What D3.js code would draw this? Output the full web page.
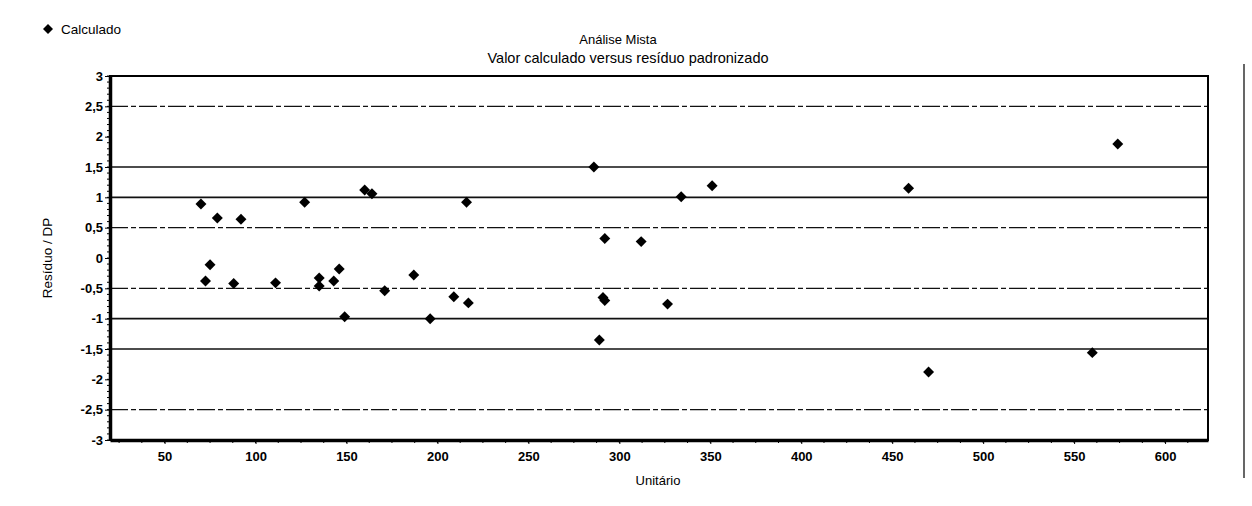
<!DOCTYPE html>
<html>
<head>
<meta charset="utf-8">
<script src="https://cdn.jsdelivr.net/npm/d3@7"></script>
<style>
body{margin:0;background:#fff;}
text{font-family:"Liberation Sans",Arial,sans-serif;fill:#000;}
</style>
</head>
<body>
<script>
// calculated value (x) and standardized residual (y)
const unitario=[70,79,92,127,160,164,216,75,72.5,88,111,135,135,143,146,171,187,209,217,149,196,
286,351,334,292,312,291,292,326.5,289,574,459,470,560];
const residuo=[0.89,0.66,0.64,0.92,1.12,1.06,0.92,-0.11,-0.38,-0.42,-0.41,-0.33,-0.46,-0.38,-0.18,-0.54,-0.28,-0.64,-0.74,-0.97,-1.0,
1.50,1.19,1.01,0.32,0.27,-0.65,-0.70,-0.76,-1.35,1.88,1.15,-1.88,-1.56];
const xTicks=[50,100,150,200,250,300,350,400,450,500,550,600];
const yTicks=[3,2.5,2,1.5,1,0.5,0,-0.5,-1,-1.5,-2,-2.5,-3];
const refSolid=[1.5,1,-1,-1.5];
const refDash=[2.5,0.5,-0.5,-2.5];

const W=1252,H=506;
const L=110,R=1208,T=76,B=440;

const svg=d3.select("body").append("svg").attr("width",W).attr("height",H);

const x=d3.scaleLinear().domain([20,623.6]).range([L,R]);
const y=d3.scaleLinear().domain([-3,3]).range([B,T]);

// reference lines
svg.selectAll(".rs").data(refSolid).enter().append("line")
 .attr("x1",L).attr("x2",R).attr("y1",d=>y(d)).attr("y2",d=>y(d))
 .attr("stroke","#111").attr("stroke-width",1.6);
svg.selectAll(".rd").data(refDash).enter().append("line")
 .attr("x1",L).attr("x2",R).attr("y1",d=>y(d)).attr("y2",d=>y(d))
 .attr("stroke","#111").attr("stroke-width",1.4).attr("stroke-dasharray","18,3,5,3");

// frame
svg.append("rect").attr("x",L).attr("y",T).attr("width",R-L).attr("height",B-T)
 .attr("fill","none").attr("stroke","#000").attr("stroke-width",2);

// axes
const xAxis=d3.axisBottom(x).tickValues(xTicks).tickSize(4).tickSizeOuter(0).tickPadding(8);
const gx=svg.append("g").attr("transform","translate(0,"+B+")").call(xAxis);
gx.select(".domain").attr("stroke-width",3.5);
gx.selectAll("text").style("font-size","13px").style("font-weight","bold");
gx.selectAll(".minor").data(d3.range(25,623,12.5)).enter().append("line")
 .attr("x1",d=>x(d)).attr("x2",d=>x(d)).attr("y1",0).attr("y2",3).attr("stroke","#000");

const yAxis=d3.axisLeft(y).tickValues(yTicks).tickSize(5).tickSizeOuter(0).tickPadding(2)
 .tickFormat(d=>String(d).replace(".",","));
const gy=svg.append("g").attr("transform","translate("+L+",0)").call(yAxis);
gy.select(".domain").attr("stroke-width",3.5);
gy.selectAll("text").style("font-size","13px").style("font-weight","bold");
gy.selectAll(".minor").data(d3.range(-3,3.001,0.1)).enter().append("line")
 .attr("x1",-3).attr("x2",0).attr("y1",d=>y(d)).attr("y2",d=>y(d)).attr("stroke","#000");

// points
const diamond=d3.symbol(d3.symbolSquare,60);
svg.selectAll(".pt").data(unitario).enter().append("path")
 .attr("d",diamond)
 .attr("transform",(d,i)=>"translate("+x(d)+","+y(residuo[i])+") rotate(45)")
 .attr("fill","#000");

// titles
svg.append("text").attr("x",618).attr("y",44).attr("text-anchor","middle")
 .style("font-size","13px").style("font-weight","500").text("Análise Mista");
svg.append("text").attr("x",628).attr("y",63).attr("text-anchor","middle")
 .style("font-size","14.5px").text("Valor calculado versus resíduo padronizado");
svg.append("text").attr("x",658).attr("y",485).attr("text-anchor","middle")
 .style("font-size","13px").text("Unitário");
svg.append("text").attr("transform","translate(52,258) rotate(-90)").attr("text-anchor","middle")
 .style("font-size","13.5px").text("Resíduo / DP");

// legend
svg.append("path").attr("d",d3.symbol(d3.symbolSquare,50)).attr("transform","translate(48,29) rotate(45)").attr("fill","#000");
svg.append("text").attr("x",61).attr("y",34).style("font-size","13.5px").text("Calculado");

// page edge line from the scan
svg.append("line").attr("x1",1244).attr("x2",1244).attr("y1",64).attr("y2",478)
 .attr("stroke","#000").attr("stroke-width",1.2);
</script>
</body>
</html>
